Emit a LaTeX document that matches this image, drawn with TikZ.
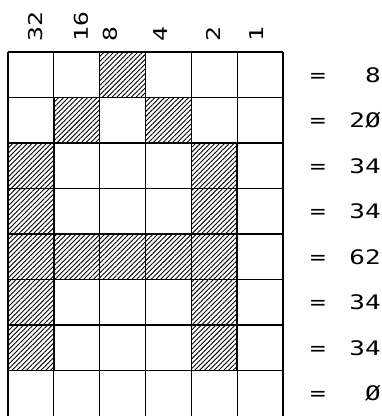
\documentclass[tikz,border=0pt]{standalone}
\usepackage{fontspec}
\setmonofont{DejaVu Sans Mono}[FakeStretch=1.3]
\usetikzlibrary{patterns.meta}
\tikzset{
  gridline/.style={line width=1.1pt, black},
  hatched/.style={draw=black, line width=1.6pt, pattern={Lines[angle=45, distance=3.4pt, line width=0.9pt]}},
  weight/.style={rotate=90, anchor=base west, inner sep=0pt, font=\ttfamily\fontsize{19}{19}\selectfont},
  rowsum/.style={anchor=base east, inner sep=0pt, font=\ttfamily\fontsize{20}{20}\selectfont}
}

\begin{document}
\begin{tikzpicture}[x=1pt, y=-1pt]
  \useasboundingbox (0,0) rectangle (382,416);
  % hatched cells (column, row)
  \foreach \c/\r in {3/1, 2/2, 4/2, 1/3, 5/3, 1/4, 5/4, 1/5, 2/5, 3/5, 4/5, 5/5, 1/6, 5/6, 1/7, 5/7}
    \draw[hatched] ({8+45.83*(\c-1)},{52+45.5*(\r-1)}) rectangle ++(45.83,45.5);
  % grid
  \foreach \i in {0,...,6}
    \draw[gridline] ({8+45.83*\i},52) -- ({8+45.83*\i},416);
  \foreach \j in {0,...,7}
    \draw[gridline] (8,{52+45.5*\j}) -- (283,{52+45.5*\j});
  % column weights
  \foreach \x/\w in {42/32, 88/16, 117/8, 167/4, 220/2, 263/1}
    \node[weight] (w\w) at (\x,42) {\w};
  % row values
  \foreach \r/\v in {1/8, 2/2Ø, 3/34, 4/34, 5/62, 6/34, 7/34, 8/Ø}{
    \node[rowsum] (eq\r) at (326,{52+45.5*(\r-0.5)+7.5}) {=};
    \node[rowsum] (v\r) at (381,{52+45.5*(\r-0.5)+7.5}) {\v};
  }
\end{tikzpicture}
\end{document}
